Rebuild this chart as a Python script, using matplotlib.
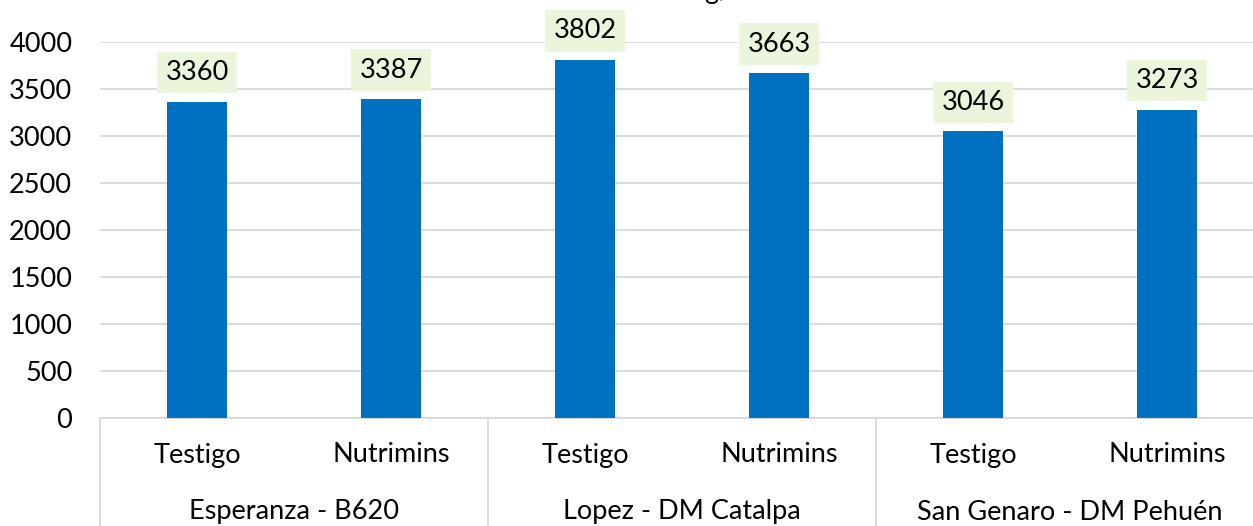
import numpy as np
import matplotlib
matplotlib.use('Agg')
import matplotlib.pyplot as plt
import matplotlib.transforms as mtransforms

# data
tratamientos = ['Testigo', 'Nutrimins', 'Testigo', 'Nutrimins', 'Testigo', 'Nutrimins']
sitios = ['Esperanza - B620', 'Lopez - DM Catalpa', 'San Genaro - DM Pehuén']
rendimiento = [3360, 3387, 3802, 3663, 3046, 3273]
yticks = [0, 500, 1000, 1500, 2000, 2500, 3000, 3500, 4000]

plt.rcParams['font.family'] = ['Lato', 'DejaVu Sans']
fs = 19.5

fig = plt.figure(figsize=(12.53, 5.26), dpi=100)
W, H = 1253., 526.
ax = fig.add_axes([100/W, (H-418)/H, 1164/W, (418-41.5)/H])

x = np.arange(len(rendimiento))
ax.bar(x, rendimiento, width=0.31, color='#0070C0', zorder=3)

for xi, v in zip(x, rendimiento):
    ax.annotate(str(v), xy=(xi, v), xytext=(0, 21), textcoords='offset points',
                ha='center', va='center', fontsize=fs, annotation_clip=False,
                bbox=dict(boxstyle='square,pad=0.3', fc='#EBF5DC', ec='none'),
                zorder=4)

ax.set_xlim(-0.5, 5.5)
ax.set_ylim(0, 4000)
ax.set_yticks(yticks)
ax.tick_params(axis='y', length=0, pad=20, labelsize=fs)
ax.set_xticks([])
ax.yaxis.grid(True, color='#D9D9D9', lw=1.3, zorder=0)
for s in ['top', 'right', 'left']:
    ax.spines[s].set_visible(False)
ax.spines['bottom'].set_color('#D9D9D9')
ax.spines['bottom'].set_linewidth(1.3)

# multi-level category axis
trans = mtransforms.blended_transform_factory(ax.transData, ax.transAxes)
axh = 418 - 41.5
for xi, t in zip(x, tratamientos):
    ax.text(xi, -37/axh, t, transform=trans, ha='center', va='center', fontsize=fs)
for i, s in enumerate(sitios):
    ax.text(2*i + 0.5, -94/axh, s, transform=trans, ha='center', va='center', fontsize=fs)
for xs in [-0.5, 1.5, 3.5, 5.5]:
    ax.plot([xs, xs], [0, -110/axh], transform=trans, color='#D9D9D9', lw=1.3,
            clip_on=False)

# title mostly cut off at the top
fig.text(533/W, 1 + 1.5/H, 'Rendimiento kg/ha', fontsize=fs, ha='left', va='baseline')

fig.savefig('out.png', dpi=100, facecolor='w')
